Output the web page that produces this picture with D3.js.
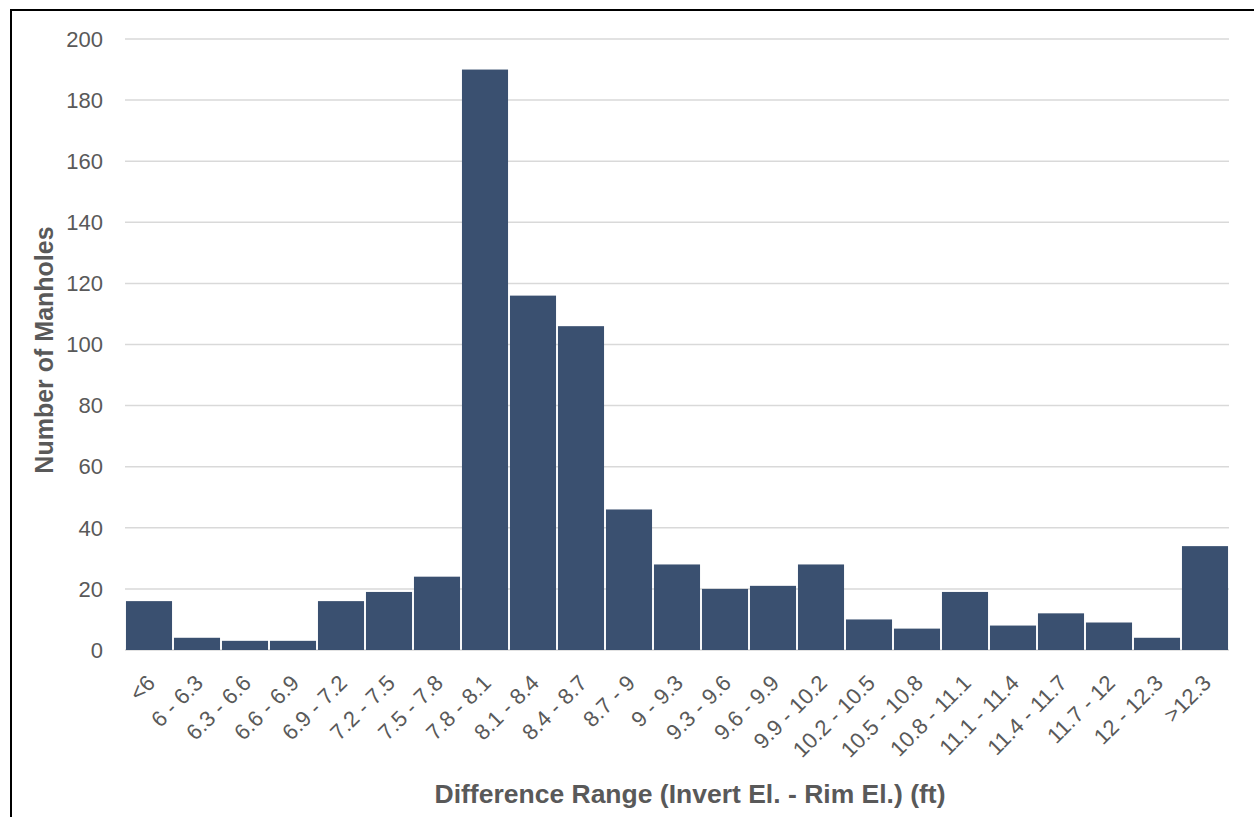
<!DOCTYPE html>
<html>
<head>
<meta charset="utf-8">
<script src="https://cdn.jsdelivr.net/npm/d3@7"></script>
<style>
  body { margin: 0; background: #fff; }
  text { font-family: "Liberation Sans", Arial, sans-serif; }
</style>
</head>
<body>
<div id="chart"></div>
<script>
const categories = ["<6", "6 - 6.3", "6.3 - 6.6", "6.6 - 6.9", "6.9 - 7.2", "7.2 - 7.5", "7.5 - 7.8",
    "7.8 - 8.1", "8.1 - 8.4", "8.4 - 8.7", "8.7 - 9", "9 - 9.3", "9.3 - 9.6", "9.6 - 9.9",
    "9.9 - 10.2", "10.2 - 10.5", "10.5 - 10.8", "10.8 - 11.1", "11.1 - 11.4", "11.4 - 11.7",
    "11.7 - 12", "12 - 12.3", ">12.3"];
const counts = [16, 4, 3, 3, 16, 19, 24, 190, 116, 106, 46, 28, 20, 21, 28, 10, 7, 19, 8, 12, 9, 4, 34];
const yTicks = [0, 20, 40, 60, 80, 100, 120, 140, 160, 180, 200];

const W = 1254, H = 817;
const margin = { top: 39, right: 25, bottom: 167, left: 125 },
    width = W - margin.left - margin.right,
    height = H - margin.top - margin.bottom;

const root = d3.select("#chart").append("svg")
    .attr("width", W)
    .attr("height", H);

// outer frame (right/bottom edges fall outside the picture)
root.append("rect")
    .attr("x", 11).attr("y", 10)
    .attr("width", W).attr("height", H)
    .attr("fill", "none")
    .attr("stroke", "#000")
    .attr("stroke-width", 2);

const svg = root.append("g")
    .attr("transform", `translate(${margin.left},${margin.top})`);

const x = d3.scaleBand()
    .domain(categories)
    .range([0, width])
    .paddingInner(0.04)
    .paddingOuter(0.02);

const y = d3.scaleLinear()
    .domain([0, 200])
    .range([height, 0]);

// gridlines
svg.append("g")
    .selectAll("line")
    .data(yTicks)
    .enter().append("line")
    .attr("x1", 0)
    .attr("x2", width)
    .attr("y1", d => y(d))
    .attr("y2", d => y(d))
    .attr("stroke", "#d9d9d9")
    .attr("stroke-width", 1.5);

// y tick labels
svg.append("g")
    .selectAll("text")
    .data(yTicks)
    .enter().append("text")
    .attr("x", -22)
    .attr("y", d => y(d))
    .attr("dy", "0.35em")
    .attr("text-anchor", "end")
    .attr("font-size", 22)
    .attr("fill", "#595959")
    .text(d => d);

// bars
svg.append("g")
    .selectAll("rect")
    .data(counts)
    .enter().append("rect")
    .attr("x", (d, i) => x(categories[i]))
    .attr("y", d => y(d))
    .attr("width", x.bandwidth())
    .attr("height", d => height - y(d))
    .attr("fill", "#3a5070");

// x tick labels, rotated
svg.append("g")
    .selectAll("text")
    .data(categories)
    .enter().append("text")
    .attr("transform", d => `translate(${x(d) + x.bandwidth() / 2 + 2},${height + 29}) rotate(-45)`)
    .attr("text-anchor", "end")
    .attr("dy", "0.35em")
    .attr("font-size", 22)
    .attr("fill", "#595959")
    .text(d => d);

// axis titles
root.append("text")
    .attr("x", 690)
    .attr("y", 803)
    .attr("text-anchor", "middle")
    .attr("font-size", 26.5)
    .attr("font-weight", "bold")
    .attr("fill", "#595959")
    .text("Difference Range (Invert El. - Rim El.) (ft)");

root.append("text")
    .attr("transform", "translate(53,350) rotate(-90)")
    .attr("text-anchor", "middle")
    .attr("font-size", 25)
    .attr("font-weight", "bold")
    .attr("fill", "#595959")
    .text("Number of Manholes");
</script>
</body>
</html>
